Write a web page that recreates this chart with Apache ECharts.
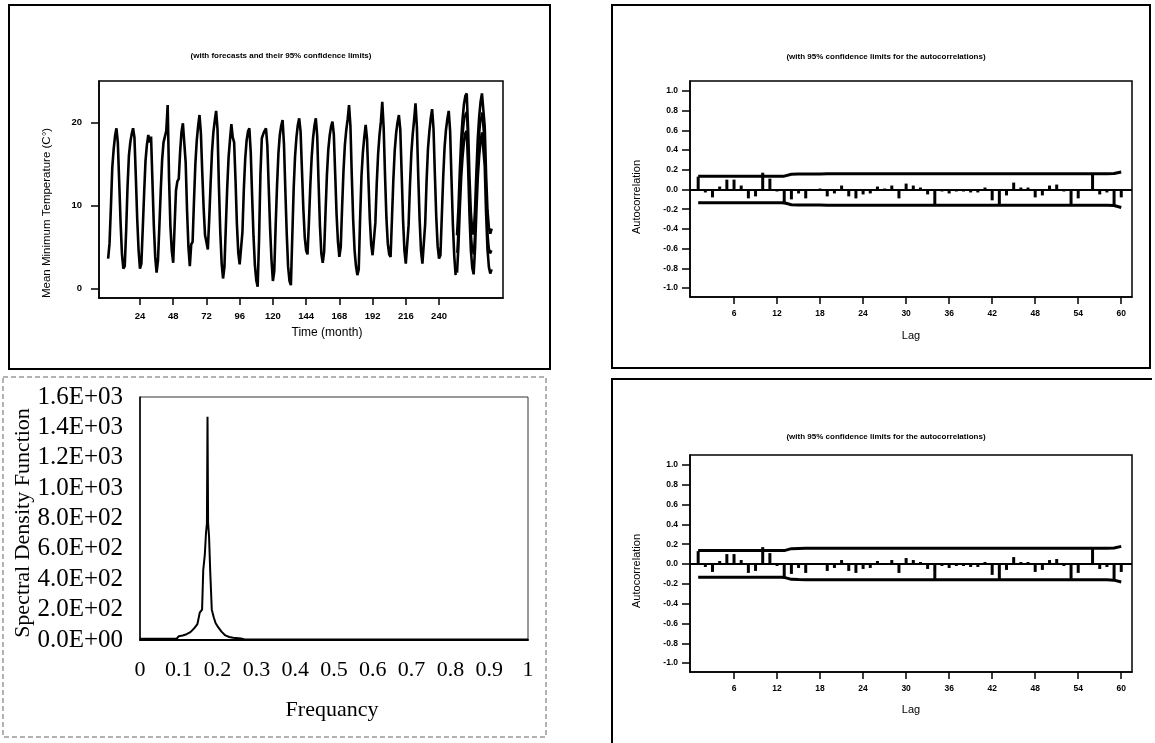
<!DOCTYPE html>
<html>
<head>
<meta charset="utf-8">
<title>Mean minimum temperature: forecasts, spectrum and residual ACF</title>
<script src="https://cdn.jsdelivr.net/npm/echarts@6/dist/echarts.min.js"></script>
<style>html, body { margin: 0; padding: 0; background: #fff; }</style>
</head>
<body>
<div id="main" style="width:1155px; height:743px"></div>
<script type="text/javascript">
// ---- monthly mean minimum temperature, months 1..252 (observed)
var tempObs = [
    3.6, 5.4, 9.8, 14.6, 16.8, 18.4, 19.3, 17.6, 12.8, 7.9, 4.1, 2.4,
    2.7, 6.9, 12.2, 16.0, 17.6, 18.6, 19.3, 18.2, 13.5, 8.4, 4.6, 2.4,
    3.0, 7.2, 11.5, 15.4, 17.3, 18.5, 17.6, 18.3, 12.9, 7.6, 3.8, 1.9,
    3.4, 7.5, 11.8, 15.5, 17.6, 18.3, 19.0, 22.1, 13.2, 7.4, 4.5, 3.1,
    7.5, 11.8, 12.9, 13.2, 16.5, 18.9, 19.9, 20.0, 15.2, 9.4, 5.0, 2.7,
    5.3, 5.6, 10.5, 15.0, 17.8, 19.6, 20.9, 18.7, 13.9, 9.6, 6.4, 5.6,
    4.7, 8.3, 12.6, 16.4, 18.8, 20.2, 21.4, 19.2, 12.4, 6.8, 3.0, 1.2,
    2.6, 7.4, 12.1, 15.8, 17.9, 19.8, 18.2, 17.6, 13.1, 7.8, 4.3, 2.9,
    2.7, 6.8, 11.9, 15.6, 17.8, 18.9, 19.3, 16.4, 11.1, 6.3, 2.8, 1.0,
    0.2, 5.9, 13.8, 18.1, 18.6, 19.0, 19.3, 17.2, 12.1, 7.2, 3.4, 0.9,
    2.1, 7.6, 12.4, 16.3, 18.5, 19.6, 20.3, 17.4, 11.8, 6.6, 2.6, 0.9,
    0.4, 6.2, 12.0, 15.9, 18.2, 19.7, 20.5, 18.9, 14.2, 9.6, 6.2, 4.6,
    4.1, 7.9, 12.3, 15.8, 18.1, 19.6, 20.5, 18.4, 12.7, 7.5, 4.2, 3.1,
    4.4, 9.1, 13.6, 16.7, 18.4, 19.5, 20.1, 18.6, 13.8, 8.9, 5.6, 3.8,
    5.0, 9.8, 14.2, 17.3, 19.1, 20.4, 22.1, 19.6, 13.5, 8.2, 4.6, 2.7,
    1.6, 2.3, 8.5, 13.6, 16.4, 18.2, 19.7, 18.0, 13.1, 8.4, 5.3, 4.0,
    3.8, 7.9, 12.6, 16.2, 18.5, 20.1, 22.5, 19.4, 13.6, 8.5, 5.4, 4.1,
    3.8, 8.4, 13.1, 16.6, 18.7, 20.0, 20.9, 19.2, 13.9, 8.3, 4.6, 3.0,
    2.8, 7.6, 12.4, 16.3, 18.6, 20.3, 22.3, 19.5, 13.5, 8.2, 4.5, 3.0,
    2.8, 7.8, 12.9, 16.8, 18.9, 20.5, 21.6, 19.3, 13.7, 8.6, 5.1, 3.6,
    4.0, 8.7, 13.4, 17.0, 19.1, 20.4, 21.4, 19.0, 13.2, 7.7, 3.9, 1.6
];
// forecasts and 95% limits, months 253..278
var fcStart = 253;
var tempFc = [
    4.3, 7.4, 11.9, 15.7, 18.2, 20.0, 21.0, 21.3, 17.0, 11.2, 6.9, 4.8,
    4.1, 7.2, 11.8, 15.8, 18.4, 20.2, 21.2, 21.4, 17.2, 11.4, 7.1, 5.0,
    4.2, 4.6
];
var tempUcl = [
    6.4, 9.6, 14.1, 17.9, 20.4, 22.2, 23.2, 23.5, 19.2, 13.4, 9.1, 7.0,
    6.5, 9.5, 14.1, 18.1, 20.7, 22.5, 23.5, 23.7, 19.5, 13.7, 9.4, 7.3,
    6.6, 7.2
];
var tempLcl = [
    1.9, 5.1, 9.6, 13.4, 15.9, 17.7, 18.7, 19.0, 14.7, 8.9, 4.6, 2.5,
    1.7, 4.8, 9.4, 13.4, 16.0, 17.8, 18.8, 19.0, 14.8, 9.0, 4.7, 2.6,
    1.8, 2.3
];
var monthTicks = [24, 48, 72, 96, 120, 144, 168, 192, 216, 240];
var tempTicks = [0, 10, 20];

// ---- residual autocorrelations, lags 1..60
var acfValues = [
    0.13, -0.03, -0.08, 0.03, 0.10, 0.10, 0.04, -0.09, -0.07, 0.17,
    0.11, -0.02, -0.15, -0.10, -0.04, -0.09, -0.01, 0.01, -0.07, -0.04,
    0.04, -0.07, -0.09, -0.05, -0.04, 0.03, 0.01, 0.04, -0.09, 0.06,
    0.04, 0.02, -0.05, -0.16, -0.02, -0.04, -0.02, -0.02, -0.03, -0.03,
    0.02, -0.11, -0.16, -0.06, 0.07, 0.02, 0.02, -0.08, -0.06, 0.04,
    0.05, -0.02, -0.15, -0.09, -0.01, 0.15, -0.05, -0.03, -0.16, -0.08
];
var acfUpper = [
    0.135, 0.135, 0.135, 0.135, 0.135, 0.135, 0.135, 0.135, 0.135, 0.135,
    0.135, 0.135, 0.135, 0.155, 0.157, 0.158, 0.158, 0.158, 0.159, 0.159,
    0.159, 0.159, 0.159, 0.159, 0.159, 0.159, 0.159, 0.159, 0.159, 0.160,
    0.160, 0.160, 0.160, 0.160, 0.160, 0.160, 0.160, 0.160, 0.160, 0.160,
    0.160, 0.160, 0.160, 0.160, 0.160, 0.160, 0.160, 0.160, 0.160, 0.160,
    0.160, 0.160, 0.160, 0.160, 0.160, 0.160, 0.160, 0.160, 0.162, 0.178
];
var acfLower = [
    -0.135, -0.135, -0.135, -0.135, -0.135, -0.135, -0.135, -0.135, -0.135, -0.135,
    -0.135, -0.135, -0.135, -0.155, -0.157, -0.158, -0.158, -0.158, -0.159, -0.159,
    -0.159, -0.159, -0.159, -0.159, -0.159, -0.159, -0.159, -0.159, -0.159, -0.160,
    -0.160, -0.160, -0.160, -0.160, -0.160, -0.160, -0.160, -0.160, -0.160, -0.160,
    -0.160, -0.160, -0.160, -0.160, -0.160, -0.160, -0.160, -0.160, -0.160, -0.160,
    -0.160, -0.160, -0.160, -0.160, -0.160, -0.160, -0.160, -0.160, -0.163, -0.182
];
var lagTicks = [6, 12, 18, 24, 30, 36, 42, 48, 54, 60];
var acfTicks = [-1, -0.8, -0.6, -0.4, -0.2, 0, 0.2, 0.4, 0.6, 0.8, 1];

// ---- spectral density
var freq = [
    0, 0.05, 0.095, 0.1, 0.11, 0.12, 0.13, 0.14, 0.148, 0.154,
    0.16, 0.163, 0.167, 0.17, 0.1725, 0.174, 0.1755, 0.178, 0.181, 0.185,
    0.19, 0.195, 0.2, 0.21, 0.22, 0.23, 0.24, 0.26, 0.27, 0.5, 1
];
var density = [
    8, 8, 10, 25, 30, 38, 52, 78, 105, 180,
    200, 460, 560, 700, 770, 1470, 770, 680, 450, 200,
    150, 110, 90, 55, 30, 20, 15, 10, 3, 3, 3
];

function pairs(xs, ys) {
    return ys.map(function (v, i) { return [xs[i], v]; });
}
function fromMonth(start, ys) {
    return ys.map(function (v, i) { return [start + i, v]; });
}
function lagPairs(ys) {
    return ys.map(function (v, i) { return [i + 1, v]; });
}

var sans = '"Liberation Sans", Arial, sans-serif';
var serif = '"Liberation Serif", "Times New Roman", serif';

var myChart = echarts.init(document.getElementById('main'));

function acfXAxis(g) {
    return {
        gridIndex: g, type: 'value', min: -0.14, max: 61.5,
        axisLine: { show: true, onZero: false, lineStyle: { color: '#000', width: 1.5 } },
        axisTick: { show: true, customValues: lagTicks, length: 7, lineStyle: { color: '#000', width: 1.5 } },
        axisLabel: { customValues: lagTicks, margin: 12, color: '#000', fontFamily: sans, fontWeight: 'bold', fontSize: 8.5 },
        splitLine: { show: false }
    };
}
function acfYAxis(g) {
    return {
        gridIndex: g, type: 'value', min: -1.09, max: 1.1,
        axisLine: { show: true, onZero: false, lineStyle: { color: '#000', width: 1.5 } },
        axisTick: { show: true, customValues: acfTicks, length: 8, lineStyle: { color: '#000', width: 1.5 } },
        axisLabel: {
            customValues: acfTicks, margin: 12, color: '#000', fontFamily: sans, fontWeight: 'bold', fontSize: 8.5,
            formatter: function (v) { return v.toFixed(1); }
        },
        splitLine: { show: false }
    };
}
function acfSeries(g) {
    return [
        {
            type: 'bar', xAxisIndex: g, yAxisIndex: g, data: lagPairs(acfValues),
            barWidth: 3, itemStyle: { color: '#000' }, silent: true,
            markLine: {
                silent: true, symbol: 'none', label: { show: false },
                lineStyle: { color: '#000', width: 2, type: 'solid' },
                data: [{ yAxis: 0 }]
            }
        },
        {
            type: 'line', xAxisIndex: g, yAxisIndex: g, data: lagPairs(acfUpper),
            symbol: 'none', lineStyle: { color: '#000', width: 3 }
        },
        {
            type: 'line', xAxisIndex: g, yAxisIndex: g, data: lagPairs(acfLower),
            symbol: 'none', lineStyle: { color: '#000', width: 3 }
        }
    ];
}

function txt(x, y, s, font, rot) {
    return {
        type: 'text', x: x, y: y, rotation: rot || 0, silent: true,
        style: { text: s, font: font, fill: '#000', align: 'center', verticalAlign: 'middle' }
    };
}

var acfTitle = '(with 95% confidence limits for the autocorrelations)';

option = {
    animation: false,
    backgroundColor: '#fff',
    grid: [
        { left: 99, top: 81, width: 404, height: 217, show: true, borderColor: '#000', borderWidth: 1.5, outerBoundsMode: 'none' },
        { left: 690, top: 81, width: 442, height: 216, show: true, borderColor: '#000', borderWidth: 1.5, outerBoundsMode: 'none' },
        { left: 140, top: 397, width: 388, height: 243, show: true, borderColor: '#333', borderWidth: 1, outerBoundsMode: 'none' },
        { left: 690, top: 455, width: 442, height: 217, show: true, borderColor: '#000', borderWidth: 1.5, outerBoundsMode: 'none' }
    ],
    xAxis: [
        {
            gridIndex: 0, type: 'value', min: -5.6, max: 286.2,
            axisLine: { show: true, onZero: false, lineStyle: { color: '#000', width: 1.5 } },
            axisTick: { show: true, customValues: monthTicks, length: 7, lineStyle: { color: '#000', width: 1.5 } },
            axisLabel: { customValues: monthTicks, margin: 13, color: '#000', fontFamily: sans, fontWeight: 'bold', fontSize: 9.5 },
            splitLine: { show: false }
        },
        acfXAxis(1),
        {
            gridIndex: 2, type: 'value', min: 0, max: 1, interval: 0.1,
            axisLine: { show: true, onZero: false, lineStyle: { color: '#000', width: 2 } },
            axisTick: { show: false },
            axisLabel: {
                margin: 19, color: '#000', fontFamily: serif, fontSize: 22,
                formatter: function (v) {
                    if (v === 0) return '0';
                    if (v === 1) return '1';
                    return v.toFixed(1);
                }
            },
            splitLine: { show: false }
        },
        acfXAxis(3)
    ],
    yAxis: [
        {
            gridIndex: 0, type: 'value', min: -1.15, max: 25,
            axisLine: { show: true, onZero: false, lineStyle: { color: '#000', width: 1.5 } },
            axisTick: { show: true, customValues: tempTicks, length: 8, lineStyle: { color: '#000', width: 1.5 } },
            axisLabel: { customValues: tempTicks, margin: 17, color: '#000', fontFamily: sans, fontWeight: 'bold', fontSize: 9.5 },
            splitLine: { show: false }
        },
        acfYAxis(1),
        {
            gridIndex: 2, type: 'value', min: 0, max: 1600, interval: 200,
            axisLine: { show: true, onZero: false, lineStyle: { color: '#000', width: 1.5 } },
            axisTick: { show: false },
            axisLabel: {
                margin: 17, color: '#000', fontFamily: serif, fontSize: 25,
                formatter: function (v) {
                    if (v === 0) return '0.0E+00';
                    var e = Math.floor(Math.log10(v) + 1e-9);
                    var m = v / Math.pow(10, e);
                    return m.toFixed(1) + 'E+' + (e < 10 ? '0' : '') + e;
                }
            },
            splitLine: { show: false }
        },
        acfYAxis(3)
    ],
    series: [
        {
            type: 'line', xAxisIndex: 0, yAxisIndex: 0, data: fromMonth(1, tempObs),
            symbol: 'none', lineStyle: { color: '#000', width: 2.6 }
        },
        {
            type: 'line', xAxisIndex: 0, yAxisIndex: 0, data: fromMonth(fcStart, tempFc),
            symbol: 'none', lineStyle: { color: '#000', width: 2 }
        },
        {
            type: 'line', xAxisIndex: 0, yAxisIndex: 0, data: fromMonth(fcStart, tempUcl),
            symbol: 'none', lineStyle: { color: '#000', width: 2.6 }
        },
        {
            type: 'line', xAxisIndex: 0, yAxisIndex: 0, data: fromMonth(fcStart, tempLcl),
            symbol: 'none', lineStyle: { color: '#000', width: 2.6 }
        },
        {
            type: 'line', xAxisIndex: 2, yAxisIndex: 2, data: pairs(freq, density),
            symbol: 'none', lineStyle: { color: '#000', width: 2 }
        }
    ].concat(acfSeries(1)).concat(acfSeries(3)),
    graphic: {
        elements: [
            // panel frames
            { type: 'rect', silent: true, shape: { x: 9, y: 5, width: 541, height: 364 }, style: { fill: null, stroke: '#000', lineWidth: 2 } },
            { type: 'rect', silent: true, shape: { x: 612, y: 5, width: 538, height: 363 }, style: { fill: null, stroke: '#000', lineWidth: 2 } },
            { type: 'polyline', silent: true, shape: { points: [[612, 743], [612, 379], [1152, 379]] }, style: { fill: null, stroke: '#000', lineWidth: 2 } },
            { type: 'rect', silent: true, shape: { x: 3, y: 377, width: 543, height: 360 }, style: { fill: null, stroke: '#666', lineWidth: 1, lineDash: [5, 3] } },
            // titles
            txt(281, 56, '(with forecasts and their 95% confidence limits)', 'bold 8px ' + sans),
            txt(886, 57, acfTitle, 'bold 8px ' + sans),
            txt(886, 437, acfTitle, 'bold 8px ' + sans),
            // axis names
            txt(47, 213, 'Mean Minimum Temperature (C\u00b0)', '11.5px ' + sans, Math.PI / 2),
            txt(327, 333, 'Time (month)', '12px ' + sans),
            txt(637, 197, 'Autocorrelation', '11px ' + sans, Math.PI / 2),
            txt(911, 336, 'Lag', '11px ' + sans),
            txt(637, 571, 'Autocorrelation', '11px ' + sans, Math.PI / 2),
            txt(911, 710, 'Lag', '11px ' + sans),
            txt(23, 523, 'Spectral Density Function', '22px ' + serif, Math.PI / 2),
            txt(332, 710, 'Frequancy', '22px ' + serif)
        ]
    }
};

myChart.setOption(option);
</script>
</body>
</html>
